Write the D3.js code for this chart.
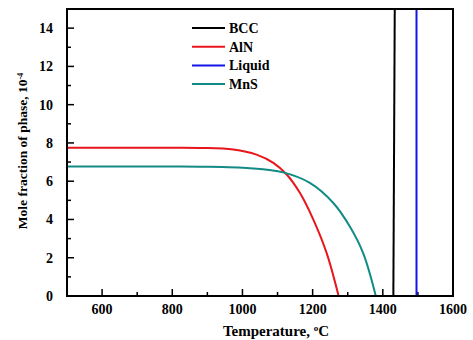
<!DOCTYPE html>
<html>
<head>
<meta charset="utf-8">
<script src="https://cdn.jsdelivr.net/npm/d3@7"></script>
<style>
  body { margin: 0; background: #fff; }
  svg text { font-family: "Liberation Serif", "Times New Roman", "DejaVu Serif", serif; font-weight: bold; }
</style>
</head>
<body>
<div id="chart"></div>
<script>
// series: [temperature °C, mole fraction ×10^-4]
const bcc = [[1430, 0], [1434, 15]];
const liquid = [[1496, 0], [1496, 15]];
const aln = [[500, 7.75], [800, 7.75], [879, 7.74], [974, 7.66], [1040, 7.39], [1088, 6.96], [1126, 6.35],
  [1164, 5.38], [1202, 3.99], [1240, 2.24], [1274, 0], [1380, 0]];
const mns = [[500, 6.77], [800, 6.77], [879, 6.76], [1021, 6.68], [1116, 6.46], [1192, 5.91], [1259, 4.86],
  [1306, 3.63], [1344, 2.24], [1380, 0], [1600, 0]];

const xTicks = [600, 800, 1000, 1200, 1400, 1600];
const yTicks = [0, 2, 4, 6, 8, 10, 12, 14];
const legendNames = ['BCC', 'AlN', 'Liquid', 'MnS'];
const colors = { BCC: '#000000', AlN: '#e8161c', Liquid: '#1414e6', MnS: '#128a85' };

const width = 473, height = 340;
const margin = { top: 9, right: 20, bottom: 44, left: 67 };
const w = width - margin.left - margin.right;
const h = height - margin.top - margin.bottom;
const serif = '"Liberation Serif", "Times New Roman", serif';

const svg = d3.select('#chart').append('svg')
  .attr('width', width)
  .attr('height', height)
  .attr('font-family', serif)
  .attr('font-weight', 'bold');

const g = svg.append('g').attr('transform', `translate(${margin.left},${margin.top})`);

const x = d3.scaleLinear().domain([500, 1600]).range([0, w]);
const y = d3.scaleLinear().domain([0, 15]).range([h, 0]);

const line = d3.line().x(d => x(d[0])).y(d => y(d[1]));
const curve = d3.line().x(d => x(d[0])).y(d => y(d[1])).curve(d3.curveCatmullRom.alpha(0.5));

// minor + major ticks (inward)
const minorX = d3.range(600, 1600, 100);
g.selectAll('.mx').data(minorX).enter().append('line')
  .attr('x1', d => x(d)).attr('x2', d => x(d))
  .attr('y1', h).attr('y2', d => h - (xTicks.includes(d) ? 7 : 4))
  .attr('stroke', '#000').attr('stroke-width', 1.5);
const minorY = d3.range(1, 15);
g.selectAll('.my').data(minorY).enter().append('line')
  .attr('x1', 0).attr('x2', d => (yTicks.includes(d) ? 7 : 4))
  .attr('y1', d => y(d)).attr('y2', d => y(d))
  .attr('stroke', '#000').attr('stroke-width', 1.5);

// tick labels
g.selectAll('.xl').data(xTicks).enter().append('text')
  .attr('x', d => x(d)).attr('y', h + 18)
  .attr('text-anchor', 'middle').attr('font-size', 14).text(d => d);
g.selectAll('.yl').data(yTicks).enter().append('text')
  .attr('x', -14).attr('y', d => y(d) + 5)
  .attr('text-anchor', 'end').attr('font-size', 14).text(d => d);

// series: smooth part down to the first zero, then straight along the axis
function drawSeries(data, color) {
  const k = data.findIndex(d => d[1] === 0);
  g.append('path').datum(data.slice(0, k + 1)).attr('d', curve).attr('fill', 'none')
    .attr('stroke', color).attr('stroke-width', 2);
  g.append('path').datum(data.slice(k)).attr('d', line).attr('fill', 'none')
    .attr('stroke', color).attr('stroke-width', 2);
}
drawSeries(aln, colors.AlN);
drawSeries(mns, colors.MnS);
g.append('path').datum(bcc).attr('d', line).attr('fill', 'none')
  .attr('stroke', colors.BCC).attr('stroke-width', 2);
g.append('path').datum(liquid).attr('d', line).attr('fill', 'none')
  .attr('stroke', colors.Liquid).attr('stroke-width', 2);

// frame
g.append('rect').attr('x', 0).attr('y', 0).attr('width', w).attr('height', h)
  .attr('fill', 'none').attr('stroke', '#000').attr('stroke-width', 2);

// legend
const leg = g.append('g').attr('transform', `translate(${192 - margin.left},${28 - margin.top})`);
legendNames.forEach((name, i) => {
  leg.append('line').attr('x1', 0).attr('x2', 33).attr('y1', i * 18.7).attr('y2', i * 18.7)
    .attr('stroke', colors[name]).attr('stroke-width', 2);
  leg.append('text').attr('x', 37).attr('y', i * 18.7 + 5).attr('font-size', 14).text(name);
});

// axis titles
svg.append('text')
  .attr('x', 276).attr('y', 336)
  .attr('text-anchor', 'middle').attr('font-size', 15)
  .html('Temperature, <tspan baseline-shift="super" font-size="9">o</tspan>C');
svg.append('text')
  .attr('transform', `translate(27,151) rotate(-90)`)
  .attr('text-anchor', 'middle').attr('font-size', 13.5)
  .html('Mole fraction of phase, 10<tspan baseline-shift="super" font-size="8">-4</tspan>');
</script>
</body>
</html>
